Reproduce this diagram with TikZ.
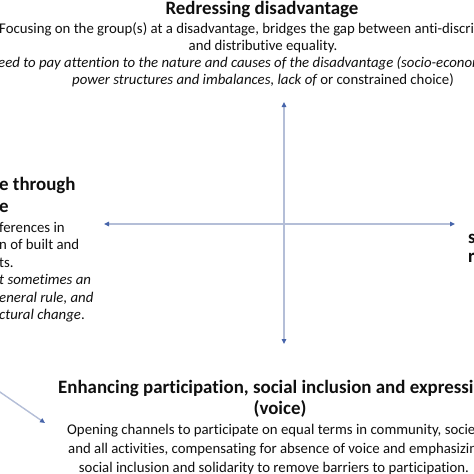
\documentclass[tikz,border=0pt]{standalone}
\usepackage{fontspec}
\setmainfont{Carlito}[Ligatures=NoCommon]
\usetikzlibrary{arrows.meta}
\definecolor{axisc}{RGB}{180,190,215}
\definecolor{tipc}{RGB}{70,100,170}
\definecolor{txt}{RGB}{15,15,15}
\tikzset{
  axis/.style={draw=axisc,line width=1.4pt,-{Triangle[length=5pt,width=4.5pt,color=tipc]}},
  body/.style={inner sep=0pt,anchor=base,text=txt,font=\fontsize{14.8pt}{17pt}\selectfont},
  bodyw/.style={body,anchor=base west},
  head/.style={inner sep=0pt,anchor=base,text=txt,font=\fontsize{18.9pt}{21pt}\selectfont\bfseries},
  headw/.style={head,anchor=base west}
}
\begin{document}
\begin{tikzpicture}[x=1pt,y=-1pt]
\useasboundingbox (0,0) rectangle (474,474);
\clip (0,0) rectangle (474,474);
% top block
\node[head] (t0) at (262,14) {Redressing disadvantage};
\node[bodyw] (t1) at (-1,33) {Focusing on the group(s) at a disadvantage, bridges the gap between anti-discri};
\node[body] (t2) at (263,50) {and distributive equality.};
\node[bodyw] (t3) at (-2,67) {\itshape eed to pay attention to the nature and causes of the disadvantage (socio-econom};
\node[body] (t4) at (263,84) {\itshape power structures and imbalances, lack of\upshape{} or constrained choice)};
% left block
\node[headw] (l0) at (-1,190) {e through};
\node[headw] (l1) at (-1,212) {e};
\node[bodyw] (l2) at (-1,232) {ferences in};
\node[bodyw] (l3) at (-1,249) {n of built and};
\node[bodyw] (l4) at (-1,267) {ts.};
\node[bodyw] (l5) at (-1,284) {\itshape t sometimes an};
\node[bodyw] (l6) at (-1,302) {\itshape eneral rule, and};
\node[bodyw] (l7) at (-1,319) {\itshape ctural change\upshape.};
% right block
\node[headw] (r0) at (468,243) {s};
\node[headw] (r1) at (468,262) {r};
% bottom block
\node[headw] (b0) at (58,393) {Enhancing participation, social inclusion and expressi};
\node[head] (b1) at (280,414) {(voice)};
\node[bodyw] (b2) at (67,434) {Opening channels to participate on equal terms in community, socie};
\node[bodyw] (b3) at (68,453) {and all activities, compensating for absence of voice and emphasizin};
\node[body] (b4) at (274,472) {social inclusion and solidarity to remove barriers to participation.};
% axes
\coordinate (c) at (284,224);
\coordinate (up) at (284,102);
\coordinate (dn) at (284,344);
\coordinate (lf) at (104,224);
\coordinate (rt) at (455,224);
\coordinate (ds) at (-3,390);
\coordinate (de) at (45,423);
\draw[axis] (c) -- (up);
\draw[axis] (c) -- (dn);
\draw[axis] (c) -- (lf);
\draw[axis] (c) -- (rt);
\draw[axis] (ds) -- (de);
\end{tikzpicture}
\end{document}
